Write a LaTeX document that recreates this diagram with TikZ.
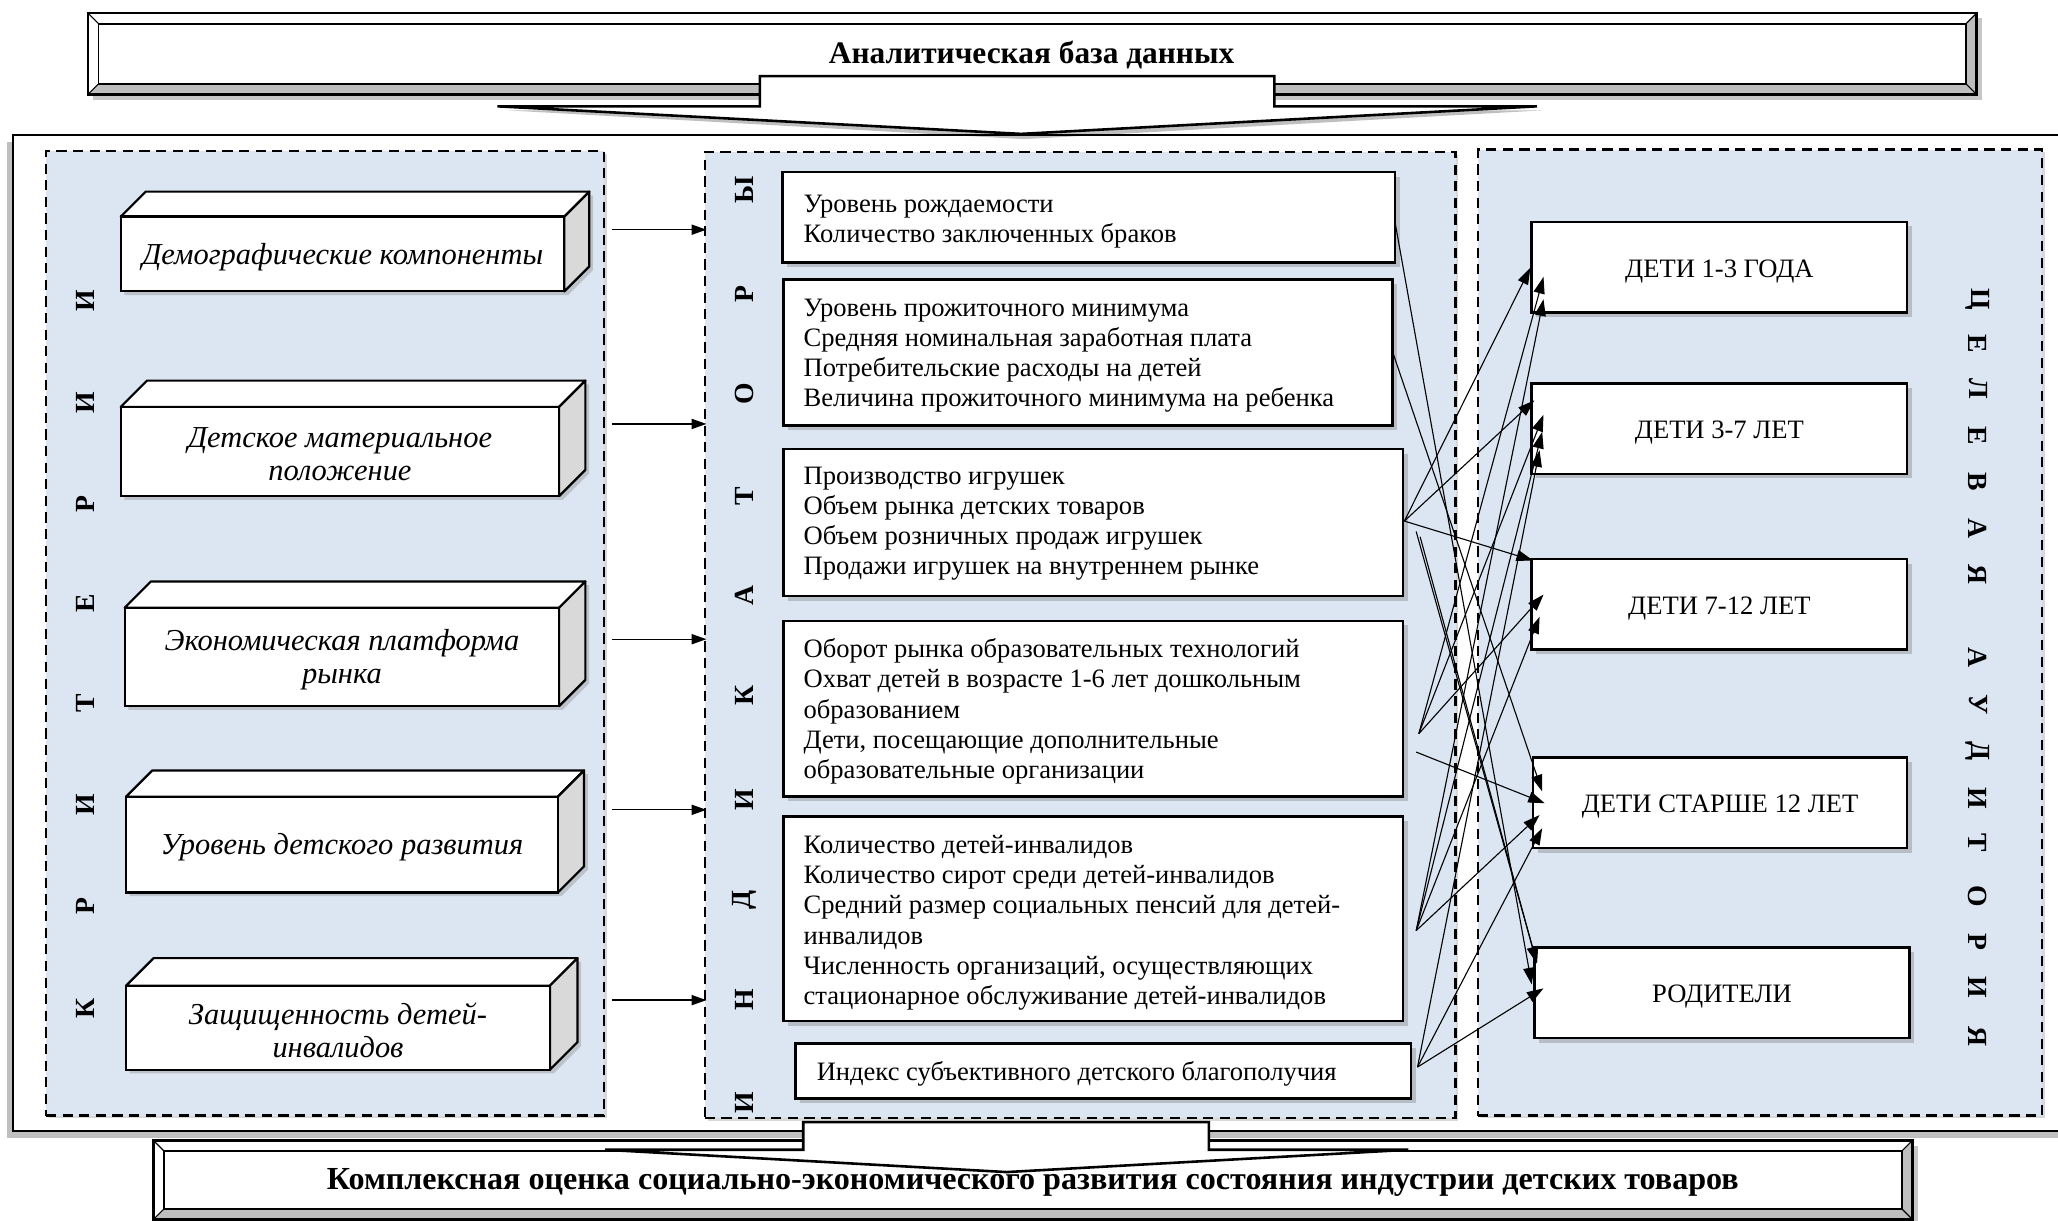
\documentclass[tikz,border=0pt]{standalone}
\usepackage{fontspec}
\setmainfont{Liberation Serif}
\usetikzlibrary{arrows.meta,shadows,fit}
\definecolor{pblue}{RGB}{220,230,242}
\definecolor{bevdark}{RGB}{190,190,190}
\definecolor{sideg}{RGB}{217,217,217}
\newcommand\fs[2]{\fontsize{#1}{#2}\selectfont}
% bevelled frame: x1 y1 (top-left) x2 y2 (bottom-right) depth
\newcommand\bevelframe[5]{%
  \fill[black,opacity=0.22] (#1+4,#2+4) rectangle (#3+4,#4+4);
  \fill[bevdark] (#1,#2) rectangle (#3,#4);
  \fill[white] (#1,#2) -- (#3,#2) -- (#3-#5,#2+#5) -- (#1+#5,#2+#5) -- (#1+#5,#4-#5) -- (#1,#4) -- cycle;
  \fill[white] (#1+#5,#2+#5) rectangle (#3-#5,#4-#5);
  \draw[line width=1.4pt] (#1,#2) rectangle (#3,#4);
  \draw[line width=1pt] (#1+#5,#2+#5) rectangle (#3-#5,#4-#5);
  \draw[line width=0.6pt] (#1,#2) -- (#1+#5,#2+#5) (#3,#2) -- (#3-#5,#2+#5) (#1,#4) -- (#1+#5,#4-#5) (#3,#4) -- (#3-#5,#4-#5);
}
% cuboid: name x1 y1 x2 y2 depth text
\newcommand\cuboid[7]{%
  \path[fill=white, drop shadow={opacity=0.35,shadow xshift=2pt,shadow yshift=-2pt}] (#2,#3) -- (#2+#6,#3-#6) -- (#4+#6,#3-#6) -- (#4+#6,#5-#6) -- (#4,#5) -- (#2,#5) -- cycle;
  \draw[line width=1.2pt, fill=white, line join=round] (#2,#3) -- (#2+#6,#3-#6) -- (#4+#6,#3-#6) -- (#4,#3) -- cycle;
  \draw[line width=1.2pt, fill=sideg, line join=round] (#4,#3) -- (#4+#6,#3-#6) -- (#4+#6,#5-#6) -- (#4,#5) -- cycle;
  \node[front, fit={(#2,#3) (#4,#5)}] (#1) {};
  \node[crit] (#1t) at ([yshift=-1.5pt]#1.center) {#7};
}
\begin{document}
\begin{tikzpicture}[x=0.025cm, y=-0.025cm,
  panel/.style={draw=black, line width=1.3pt, dash pattern=on 5.5pt off 3.5pt, fill=pblue, inner sep=0pt,
     drop shadow={opacity=0.3, shadow xshift=1.5pt, shadow yshift=-1.5pt}},
  ibox/.style={draw=black, line width=1.4pt, fill=white, inner sep=0pt,
     drop shadow={opacity=0.4, shadow xshift=2.5pt, shadow yshift=-2.5pt}},
  itext/.style={anchor=west, align=left, inner sep=0pt, font=\fs{14.4}{16.4}},
  ttext/.style={inner sep=0pt, font=\fs{14.4}{16}},
  front/.style={draw=black, line width=1.2pt, fill=white, inner sep=0pt},
  crit/.style={align=center, inner sep=0pt, font=\fs{16.5}{17.8}\itshape},
  vletter/.style={font=\fs{15}{15}\bfseries, inner sep=0pt},
  conn/.style={line width=0.6pt, -{Triangle[length=9pt, width=6pt]}},
  harrow/.style={line width=0.7pt, -{Triangle[length=8pt, width=5.5pt]}},
  btext/.style={font=\fs{17}{17}\bfseries, inner sep=0pt},
  blockarrow/.style={line width=1.4pt, fill=white, line join=miter}
]
\path[use as bounding box] (0,0) rectangle (1568,930);
\clip (0,0) rectangle (1568,930);
\fill[white] (0,0) rectangle (1568,930);

% main frame
\path[draw=black, line width=1.2pt, fill=white,
  drop shadow={opacity=0.5, shadow xshift=-3.5pt, shadow yshift=-3.5pt}] (10,103) rectangle (1600,862);

% top banner + arrow
\bevelframe{67}{10}{1506}{72}{8}
\node[btext] (topt) at (786,42) {Аналитическая база данных};
\fill[black, opacity=0.25] (385,84) -- (1177,84) -- (780,106) -- cycle;
\draw[blockarrow] (579,58) -- (971,58) -- (971,81) -- (1171,81) -- (778,102) -- (379,81) -- (579,81) -- cycle;

% panels
\node[panel, fit={(35,115) (460,850)}] (lp) {};
\node[panel, fit={(537,116) (1109,852)}] (mp) {};
\node[panel, fit={(1126,114) (1556,850)}] (rp) {};

% vertical captions
\foreach \l/\yy [count=\i] in {К/768, Р/690, И/613, Т/536, Е/460, Р/384, И/307, И/229}
  \node[vletter, rotate=90] (kr\i) at (65,\yy) {\l};
\foreach \l/\yy [count=\i] in {И/840, Н/762, Д/686, И/609, К/530, А/454, Т/378, О/300, Р/224, Ы/145}
  \node[vletter, rotate=90] (ind\i) at (567,\yy) {\l};
\foreach \l/\yy [count=\i] in {Ц/228, Е/262, Л/296, Е/332, В/367, А/403, Я/438, А/501, У/537, Д/572, И/608, Т/642, О/683, Р/718, И/752, Я/790}
  \node[vletter, rotate=-90] (ca\i) at (1507,\yy) {\l};

% criteria cuboids
\cuboid{c1}{92}{165}{430}{222}{19}{Демографические компоненты}
\cuboid{c2}{92}{310}{426}{378}{20}{Детское материальное\\положение}
\cuboid{c3}{95}{463}{426}{538}{20}{Экономическая платформа\\рынка}
\cuboid{c4}{96}{607}{425}{680}{20}{Уровень детского развития}
\cuboid{c5}{96}{751}{419}{815}{21}{Защищенность детей-\\инвалидов}

% criteria -> indicators arrows
\foreach \yy [count=\i] in {175,323,487,617,762} {
  \coordinate (la\i) at (466,\yy);
  \draw[harrow] (la\i) -- ([xshift=1.5pt]la\i -| mp.west);
}

% indicator boxes
\node[ibox, fit={(596,131) (1063,200)}] (b1) {};
\node[ibox, fit={(597,213) (1061,324)}] (b2) {};
\node[ibox, fit={(597,342) (1069,454)}] (b3) {};
\node[ibox, fit={(597,473) (1069,607)}] (b4) {};
\node[ibox, fit={(597,622) (1069,778)}] (b5) {};
\node[ibox, fit={(606,795) (1075,837)}] (b6) {};
\node[itext] (b1t) at (612,169) {Уровень рождаемости\\Количество заключенных браков};
\node[itext] (b2t) at (612,271) {Уровень прожиточного минимума\\Средняя номинальная заработная плата\\Потребительские расходы на детей\\Величина прожиточного минимума на ребенка};
\node[itext] (b3t) at (612,399) {Производство игрушек\\Объем рынка детских товаров\\Объем розничных продаж игрушек\\Продажи игрушек на внутреннем рынке};
\node[itext] (b4t) at (612,542) {Оборот рынка образовательных технологий\\Охват детей в возрасте 1-6 лет дошкольным\\образованием\\Дети, посещающие дополнительные\\образовательные организации};
\node[itext] (b5t) at (612,703) {Количество детей-инвалидов\\Количество сирот среди детей-инвалидов\\Средний размер социальных пенсий для детей-\\инвалидов\\Численность организаций, осуществляющих\\стационарное обслуживание детей-инвалидов};
\node[itext] (b6t) at (622,818) {Индекс субъективного детского благополучия};

% target audience boxes
\node[ibox, fit={(1167,169) (1453,238)}] (t1) {};
\node[ibox, fit={(1167,292) (1453,361)}] (t2) {};
\node[ibox, fit={(1167,426) (1453,495)}] (t3) {};
\node[ibox, fit={(1168,577) (1453,646)}] (t4) {};
\node[ibox, fit={(1169,722) (1455,791)}] (t5) {};
\node[ttext] (t1t) at ([yshift=-2.2pt]t1.center) {ДЕТИ 1-3 ГОДА};
\node[ttext] (t2t) at ([yshift=-2.2pt]t2.center) {ДЕТИ 3-7 ЛЕТ};
\node[ttext] (t3t) at ([yshift=-2.2pt]t3.center) {ДЕТИ 7-12 ЛЕТ};
\node[ttext] (t4t) at ([yshift=-2.2pt]t4.center) {ДЕТИ СТАРШЕ 12 ЛЕТ};
\node[ttext] (t5t) at ([yshift=-2.2pt]t5.center) {РОДИТЕЛИ};

% connector end points
\coordinate (s1) at (1063,170);
\coordinate (s2) at (1061,268);
\coordinate (s3a) at (1070,397);
\coordinate (s3b) at (1079,405);
\coordinate (s3c) at (1082,409);
\coordinate (s4a) at (1081,559);
\coordinate (s4b) at (1079,573);
\coordinate (s5) at (1079,709);
\coordinate (s6) at (1080,813);
\coordinate (t1a) at (1166,204);
\coordinate (t1b) at (1176,211);
\coordinate (t1c) at (1176,228);
\coordinate (t2a) at (1169,305);
\coordinate (t2b) at (1176,316);
\coordinate (t2c) at (1175,329);
\coordinate (t2d) at (1173,343);
\coordinate (t3a) at (1168,427);
\coordinate (t3b) at (1176,453);
\coordinate (t3c) at (1173,470);
\coordinate (t4a) at (1175,603);
\coordinate (t4b) at (1177,612);
\coordinate (t4c) at (1173,621);
\coordinate (t4d) at (1175,631);
\coordinate (t5a) at (1171,734);
\coordinate (t5b) at (1167,750);
\coordinate (t5c) at (1176,753);
\foreach \s/\t in {s3a/t1a, s3a/t2a, s3a/t3a, s1/t5b, s2/t4a, s3b/t5a, s3c/t5a,
                   s4a/t1b, s4a/t2b, s4a/t3b, s4b/t4b, s5/t1c, s5/t2c, s5/t3c, s5/t4c,
                   s6/t2d, s6/t4d, s6/t5c}
  \draw[conn] (\s) -- (\t);

% bottom banner + arrow
\bevelframe{117}{869}{1457}{929}{8}
\node[btext, font=\fs{17.4}{17.4}\bfseries] (bott) at (787,901) {Комплексная оценка социально-экономического развития состояния индустрии детских товаров};
\draw[blockarrow] (612,855) -- (921,855) -- (921,876) -- (1073,876) -- (767,893) -- (461,876) -- (612,876) -- cycle;
\end{tikzpicture}
\end{document}
